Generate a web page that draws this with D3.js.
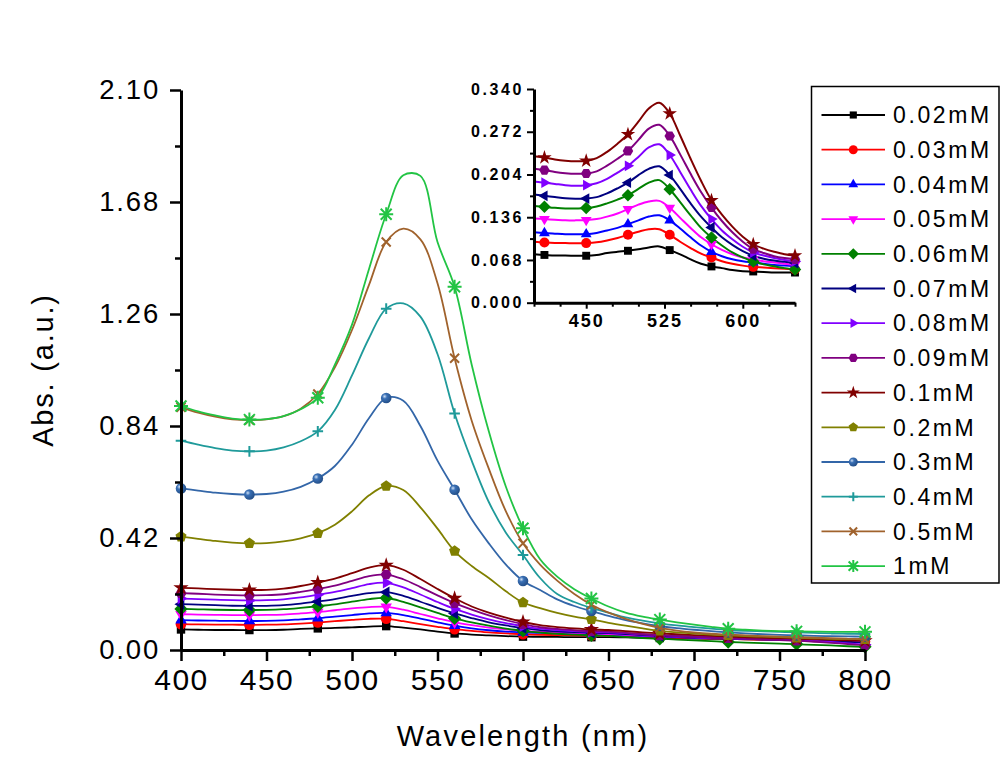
<!DOCTYPE html>
<html><head><meta charset="utf-8">
<script src="https://cdn.jsdelivr.net/npm/d3@7"></script>
<style>
body{margin:0;background:#fff}
svg{display:block}
text{font-family:Arial,"Liberation Sans",sans-serif;fill:#000}
</style>
</head><body>
<svg id="chart" width="1005" height="777"></svg>
<script>
// ---------------- data ----------------
const wavelengths = [400,410,420,430,440,450,460,470,480,490,500,510,520,530,540,550,560,570,580,590,600,610,620,630,640,650,660,670,680,690,700,710,720,730,740,750,760,770,780,790,800];
const seriesNames = ["0.02mM","0.03mM","0.04mM","0.05mM","0.06mM","0.07mM","0.08mM","0.09mM","0.1mM","0.2mM","0.3mM","0.4mM","0.5mM","1mM"];

const conc002 = [.077,.076,.075,.075,.0748,.0747,.076,.079,.081,.0826,.085,.088,.0895,.0837,.077,.069,.062,.0577,.055,.052,.050,.0497,.049,.048,.048,.048,.047,.046,.045,.044,.043,.042,.041,.040,.039,.038,.037,.035,.033,.031,.030];
const conc003 = [.097,.0958,.095,.0948,.0945,.0948,.096,.099,.103,.108,.113,.117,.117,.108,.097,.087,.078,.072,.066,.062,.059,.057,.056,.055,.054,.053,.051,.050,.048,.046,.045,.043,.042,.040,.039,.038,.036,.035,.034,.033,.032];
const conc004 = [.112,.1107,.1098,.109,.1088,.109,.111,.115,.119,.125,.131,.137,.139,.131,.118,.104,.091,.081,.074,.069,.066,.064,.062,.060,.059,.058,.055,.052,.050,.048,.046,.044,.043,.041,.040,.038,.037,.035,.033,.032,.030];
const conc005 = [.134,.133,.132,.131,.131,.1314,.133,.137,.142,.149,.156,.161,.162,.151,.135,.119,.104,.093,.084,.077,.072,.069,.066,.064,.062,.060,.057,.054,.052,.050,.048,.046,.045,.043,.041,.040,.038,.036,.034,.032,.030];
const conc006 = [.154,.1525,.151,.150,.150,.1505,.153,.158,.164,.171,.181,.191,.195,.1806,.160,.139,.119,.1037,.091,.080,.072,.0656,.061,.058,.055,.053,.049,.045,.042,.039,.036,.033,.030,.028,.026,.024,.022,.019,.017,.014,.012];
const conc007 = [.172,.170,.168,.166,.1655,.1657,.168,.174,.182,.191,.203,.213,.217,.203,.181,.158,.137,.1197,.104,.092,.082,.0747,.070,.067,.065,.063,.060,.056,.053,.051,.049,.047,.046,.044,.043,.041,.040,.037,.034,.031,.028];
const conc008 = [.193,.191,.189,.187,.186,.187,.190,.197,.207,.2177,.232,.247,.252,.235,.208,.180,.154,.133,.115,.101,.089,.080,.075,.071,.068,.066,.063,.059,.056,.053,.051,.049,.047,.045,.043,.042,.040,.035,.030,.025,.020];
const conc009 = [.213,.211,.208,.206,.205,.2055,.209,.218,.229,.2415,.259,.277,.283,.2653,.236,.205,.176,.1514,.130,.112,.097,.0853,.079,.074,.071,.069,.064,.059,.055,.052,.049,.046,.044,.042,.039,.037,.035,.031,.027,.022,.018];
const conc01  = [.233,.231,.228,.226,.225,.2256,.230,.240,.253,.268,.288,.309,.318,.301,.266,.229,.194,.163,.140,.121,.105,.093,.086,.081,.077,.075,.071,.066,.062,.059,.056,.053,.050,.048,.046,.044,.042,.040,.038,.036,.035];
const conc02  = [.425,.417,.409,.403,.400,.401,.407,.419,.438,.47,.52,.58,.615,.60,.535,.455,.371,.315,.27,.22,.178,.157,.139,.125,.115,.102,.091,.081,.072,.066,.062,.058,.055,.052,.050,.048,.046,.044,.042,.041,.040];
const conc03  = [.606,.598,.59,.585,.583,.585,.594,.612,.643,.69,.77,.87,.945,.935,.84,.71,.601,.49,.40,.32,.259,.225,.19,.165,.146,.128,.112,.10,.09,.082,.076,.071,.066,.062,.059,.057,.055,.053,.052,.051,.05];
const conc04  = [.785,.77,.757,.748,.745,.748,.76,.783,.82,.90,1.03,1.17,1.28,1.30,1.25,1.11,.887,.71,.555,.44,.356,.27,.21,.18,.158,.14,.122,.11,.10,.092,.086,.08,.075,.072,.07,.068,.066,.064,.062,.061,.06];
const conc05  = [.91,.89,.875,.865,.862,.865,.877,.905,.96,1.06,1.2,1.37,1.53,1.58,1.54,1.375,1.094,.86,.68,.52,.40,.32,.26,.21,.17,.14,.117,.098,.083,.073,.066,.061,.058,.055,.052,.05,.048,.046,.044,.042,.04];
const conc1   = [.915,.895,.88,.868,.864,.866,.877,.903,.946,1.07,1.22,1.43,1.634,1.78,1.778,1.53,1.362,1.07,.82,.612,.457,.34,.275,.228,.193,.163,.14,.125,.114,.104,.095,.087,.080,.076,.073,.071,.070,.069,.068,.068,.068];

const seriesValues = [conc002,conc003,conc004,conc005,conc006,conc007,conc008,conc009,conc01,conc02,conc03,conc04,conc05,conc1];
const seriesColors = ["#000000","#ff0000","#0000ff","#ff00ff","#008000","#000080","#8000ff","#800080","#800000","#808000","#3366a8","#1f9a9a","#a0622c","#22c444"];
const seriesShapes = ["square","circle","triUp","triDown","diamond","triLeft","triRight","hexagon","star","pentagon","sphere","plus","cross","asterisk"];

const mainXTicks = [400,450,500,550,600,650,700,750,800];
const mainXMinor = [425,475,525,575,625,675,725,775];
const mainYTicks = [0,0.42,0.84,1.26,1.68,2.10];
const mainYMinor = [0.21,0.63,1.05,1.47,1.89];
const insetXTicks = [450,525,600];
const insetXMinor = [400,425,475,500,550,575,625,650];
const insetYTicks = [0,0.068,0.136,0.204,0.272,0.340];
const insetYMinor = [0.034,0.102,0.170,0.238,0.306];
const mainMarkerWl = [400,440,480,520,560,600,640,680,720,760,800];
const insetMarkerWl = [410,450,490,530,570,610,650];

// ---------------- drawing ----------------
const svg = d3.select("#chart");
svg.append("rect").attr("width",1005).attr("height",777).attr("fill","#fff");

const defs = svg.append("defs");
const grad = defs.append("radialGradient").attr("id","sphereGrad").attr("cx","35%").attr("cy","35%").attr("r","65%");
grad.append("stop").attr("offset","0%").attr("stop-color","#cfe0f5");
grad.append("stop").attr("offset","35%").attr("stop-color","#3a70b5");
grad.append("stop").attr("offset","100%").attr("stop-color","#24508a");

function poly(n, r, a0){
  const pts = [];
  for(let i=0;i<n;i++){const a=a0+i*2*Math.PI/n;pts.push([r*Math.cos(a),r*Math.sin(a)]);}
  return "M"+pts.map(p=>p[0].toFixed(2)+","+p[1].toFixed(2)).join("L")+"Z";
}
function markerSpec(shape, r){
  switch(shape){
    case "square": return {d:poly(4,r*1.12,Math.PI/4), fill:true};
    case "circle": return {d:d3.symbol(d3.symbolCircle,Math.PI*r*r)(), fill:true};
    case "triUp": return {d:poly(3,r*1.25,-Math.PI/2), fill:true};
    case "triDown": return {d:poly(3,r*1.25,Math.PI/2), fill:true};
    case "triLeft": return {d:poly(3,r*1.25,Math.PI), fill:true};
    case "triRight": return {d:poly(3,r*1.25,0), fill:true};
    case "diamond": return {d:poly(4,r*1.25,-Math.PI/2), fill:true};
    case "hexagon": return {d:poly(6,r*1.05,0), fill:true};
    case "star": return {d:d3.symbol(d3.symbolStar,r*r*2.6)(), fill:true};
    case "pentagon": return {d:poly(5,r*1.1,-Math.PI/2), fill:true};
    case "sphere": return {d:d3.symbol(d3.symbolCircle,Math.PI*r*r)(), fill:true, sphere:true};
    case "plus": return {d:`M${-r},0H${r}M0,${-r}V${r}`, fill:false};
    case "cross": {const q=r*0.85; return {d:`M${-q},${-q}L${q},${q}M${-q},${q}L${q},${-q}`, fill:false};}
    case "asterisk": {const q=r*0.78; return {d:`M${-r},0H${r}M0,${-r}V${r}M${-q},${-q}L${q},${q}M${-q},${q}L${q},${-q}`, fill:false};}
  }
}
function drawMarker(g, shape, color, x, y, r){
  const m = markerSpec(shape, r);
  const p = g.append("path").attr("d", m.d).attr("transform",`translate(${x},${y})`);
  if(m.fill){p.attr("fill", m.sphere ? "url(#sphereGrad)" : color).attr("stroke","none");}
  else {p.attr("fill","none").attr("stroke",color).attr("stroke-width",2);}
}

const curve = d3.curveCatmullRom.alpha(0.5);

// ---- main chart ----
const x = d3.scaleLinear().domain([400,800]).range([181,865]);
const y = d3.scaleLinear().domain([0,2.10]).range([650,90]);

const plot = svg.append("g");
seriesValues.forEach((vals,si)=>{
  const pts = wavelengths.map((w,i)=>[w,vals[i]]);
  const line = d3.line().x(d=>x(d[0])).y(d=>y(d[1])).curve(curve);
  const g = plot.append("g");
  g.append("path").attr("d",line(pts)).attr("fill","none").attr("stroke",seriesColors[si]).attr("stroke-width",1.8);
  pts.filter(d=>mainMarkerWl.includes(d[0])).forEach(d=>{
    drawMarker(g, seriesShapes[si], seriesColors[si], x(d[0]), y(d[1]), seriesShapes[si]==="asterisk"?7:5.3);
  });
});

// axes
const xAxis = svg.append("g").attr("transform","translate(0,650)")
  .call(d3.axisBottom(x).tickValues(mainXTicks).tickFormat(d3.format("d")).tickSize(11).tickSizeOuter(0).tickPadding(8));
const xMinorAxis = svg.append("g").attr("transform","translate(0,650)")
  .call(d3.axisBottom(x).tickValues(mainXMinor).tickFormat("").tickSize(6).tickSizeOuter(0));
const yAxis = svg.append("g").attr("transform","translate(181,0)")
  .call(d3.axisLeft(y).tickValues(mainYTicks).tickFormat(d3.format(".2f")).tickSize(11).tickSizeOuter(0).tickPadding(10));
const yMinorAxis = svg.append("g").attr("transform","translate(181,0)")
  .call(d3.axisLeft(y).tickValues(mainYMinor).tickFormat("").tickSize(6).tickSizeOuter(0));
[xAxis,xMinorAxis,yAxis,yMinorAxis].forEach(a=>{
  a.select(".domain").attr("stroke","#000").attr("stroke-width",3);
  a.selectAll(".tick line").attr("stroke","#000").attr("stroke-width",2.5);
});
xMinorAxis.select(".domain").remove();
yMinorAxis.select(".domain").remove();
xAxis.selectAll(".tick text").attr("font-size",30).attr("letter-spacing","1.5px").attr("font-family","Arial, 'Liberation Sans', sans-serif");
yAxis.selectAll(".tick text").attr("font-size",27.5).attr("letter-spacing","1.8px").attr("font-family","Arial, 'Liberation Sans', sans-serif");

svg.append("text").attr("x",523).attr("y",746).attr("text-anchor","middle")
  .attr("font-size",29).attr("letter-spacing","2.2px").text("Wavelength (nm)");
svg.append("text").attr("transform","translate(53,370) rotate(-90)").attr("text-anchor","middle")
  .attr("font-size",29).attr("letter-spacing","1.8px").text("Abs. (a.u.)");

// ---- inset ----
const ix = d3.scaleLinear().domain([400,650]).range([534,795]);
const iy = d3.scaleLinear().domain([0,0.34]).range([302.7,89]);
const inset = svg.append("g");
defs.append("clipPath").attr("id","insetClip").append("rect").attr("x",534).attr("y",80).attr("width",265).attr("height",225);
const insetPlot = inset.append("g").attr("clip-path","url(#insetClip)");
seriesValues.slice(0,9).forEach((vals,si)=>{
  const pts = wavelengths.map((w,i)=>[w,vals[i]]).filter(d=>d[0]<=650);
  const line = d3.line().x(d=>ix(d[0])).y(d=>iy(d[1])).curve(curve);
  insetPlot.append("path").attr("d",line(pts)).attr("fill","none").attr("stroke",seriesColors[si]).attr("stroke-width",2);
});
seriesValues.slice(0,9).forEach((vals,si)=>{
  wavelengths.forEach((w,i)=>{
    if(insetMarkerWl.includes(w)) drawMarker(inset, seriesShapes[si], seriesColors[si], ix(w), iy(vals[i]), 5);
  });
});
const ixAxis = inset.append("g").attr("transform","translate(0,302.7)")
  .call(d3.axisBottom(ix).tickValues(insetXTicks).tickFormat(d3.format("d")).tickSize(6).tickSizeOuter(0).tickPadding(6));
const ixMinor = inset.append("g").attr("transform","translate(0,302.7)")
  .call(d3.axisBottom(ix).tickValues(insetXMinor).tickFormat("").tickSize(4).tickSizeOuter(0));
const iyAxis = inset.append("g").attr("transform","translate(534,0)")
  .call(d3.axisLeft(iy).tickValues(insetYTicks).tickFormat(d3.format(".3f")).tickSize(7).tickSizeOuter(0).tickPadding(3));
const iyMinor = inset.append("g").attr("transform","translate(534,0)")
  .call(d3.axisLeft(iy).tickValues(insetYMinor).tickFormat("").tickSize(4).tickSizeOuter(0));
[ixAxis,ixMinor,iyAxis,iyMinor].forEach(a=>{
  a.select(".domain").attr("stroke","#000").attr("stroke-width",3);
  a.selectAll(".tick line").attr("stroke","#000").attr("stroke-width",2);
});
ixMinor.select(".domain").remove();
iyMinor.select(".domain").remove();
ixAxis.selectAll(".tick text").attr("font-size",18).attr("font-weight","bold").attr("letter-spacing","2px").attr("font-family","Arial, 'Liberation Sans', sans-serif");
iyAxis.selectAll(".tick text").attr("font-size",16).attr("font-weight","bold").attr("letter-spacing","2.6px").attr("font-family","Arial, 'Liberation Sans', sans-serif");

// ---- legend ----
const legend = svg.append("g");
legend.append("rect").attr("x",811.5).attr("y",86.5).attr("width",187.5).attr("height",496.5)
  .attr("fill","#fff").attr("stroke","#000").attr("stroke-width",1.5);
seriesNames.forEach((name,si)=>{
  const ly = 115 + si*34.7;
  legend.append("line").attr("x1",821.5).attr("x2",885).attr("y1",ly).attr("y2",ly)
    .attr("stroke",seriesColors[si]).attr("stroke-width",1.8);
  drawMarker(legend, seriesShapes[si], seriesColors[si], 853.3, ly, seriesShapes[si]==="asterisk"?6:4.5);
  legend.append("text").attr("x",893).attr("y",ly).attr("dy","0.36em")
    .attr("font-size",23).attr("letter-spacing","2.6px").text(name);
});
</script>
</body></html>
